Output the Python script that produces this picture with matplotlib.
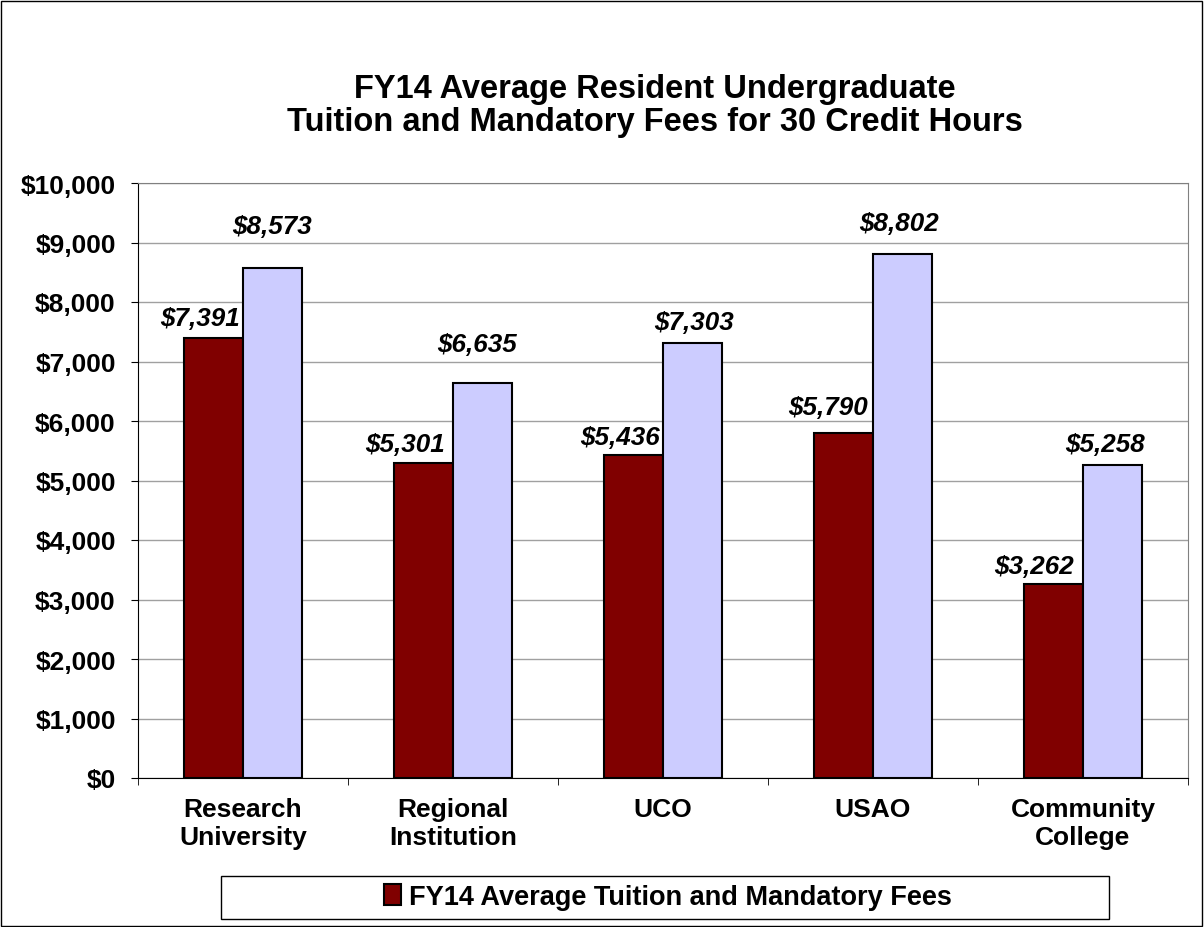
import matplotlib
matplotlib.use("Agg")
import matplotlib.pyplot as plt
import numpy as np
from matplotlib.patches import Rectangle

plt.rcParams['font.family'] = ['Liberation Sans', 'DejaVu Sans']

categories = ["Research\nUniversity", "Regional\nInstitution", "UCO", "USAO", "Community\nCollege"]
fy14_avg = [7391, 5301, 5436, 5790, 3262]
second = [8573, 6635, 7303, 8802, 5258]
legend_label = "FY14 Average Tuition and Mandatory Fees"
yticks = list(range(0, 10001, 1000))

# hand-placed label nudges (pixels), as in the original chart
red_dx = [-13, -18, -13, -15, -19]
red_dy = [13, 12, 11, 19, 11]
blue_dx = [-1, -6, 1, -4, -8]
blue_dy = [35, 32, 14, 24, 14]

fig = plt.figure(figsize=(12.04, 9.28), dpi=100)
fig.patches.append(Rectangle((0.001, 0.001), 0.997, 0.997, transform=fig.transFigure,
                             fill=False, edgecolor="black", linewidth=1))
ax = fig.add_axes([138 / 1204, 1 - 779 / 928, (1188 - 138) / 1204, (779 - 184) / 928])

x = np.arange(len(categories))
w = 0.283
b1 = ax.bar(x - w / 2, fy14_avg, w, color="#800000", edgecolor="black", linewidth=1.5,
            label=legend_label, zorder=3)
b2 = ax.bar(x + w / 2, second, w, color="#CCCCFF", edgecolor="black", linewidth=1.5, zorder=3)

for xi, v, dx, dy in zip(x, fy14_avg, red_dx, red_dy):
    ax.annotate("${:,}".format(v), (xi - w / 2, v), xytext=(dx, dy), textcoords="offset pixels",
                ha="center", va="baseline", fontsize=18.75, fontweight="bold", style="italic")
for xi, v, dx, dy in zip(x, second, blue_dx, blue_dy):
    ax.annotate("${:,}".format(v), (xi + w / 2, v), xytext=(dx, dy), textcoords="offset pixels",
                ha="center", va="baseline", fontsize=18.75, fontweight="bold", style="italic")

ax.set_xlim(-0.5, len(categories) - 0.5)
ax.set_ylim(0, 10000)
ax.set_yticks(yticks)
ax.set_yticklabels(["${:,}".format(t) for t in yticks], fontsize=19, fontweight="bold")
ax.set_xticks(x)
ax.set_xticklabels(categories, fontsize=19, fontweight="bold", linespacing=1.2)
ax.tick_params(axis="x", length=0, pad=14)
ax.set_xticks(np.arange(-0.5, len(categories), 1), minor=True)
ax.tick_params(axis="x", which="minor", length=5, direction="out")
ax.tick_params(axis="y", length=5, direction="out", pad=11)
ax.grid(axis="y", color="#a0a0a0", linewidth=1, zorder=0)
for s in ["top", "right"]:
    ax.spines[s].set_color("#808080")

fig.text(655 / 1204, 1 - 106 / 928, "FY14 Average Resident Undergraduate\nTuition and Mandatory Fees for 30 Credit Hours",
         ha="center", va="center", fontsize=23.5, fontweight="bold", linespacing=1.12)

# legend box + centred entry
fig.patches.append(Rectangle((221 / 1204, 1 - 920 / 928), (1109 - 221) / 1204, 43 / 928,
                             transform=fig.transFigure, fill=False, edgecolor="black", linewidth=1))
fig.legend(handles=[b1], labels=[legend_label], loc="center",
           bbox_to_anchor=(668 / 1204, 1 - 898 / 928), frameon=False,
           handlelength=0.6, handleheight=0.8, handletextpad=0.3,
           prop={"size": 19.5, "weight": "bold"})

fig.savefig("out.png", dpi=100)
